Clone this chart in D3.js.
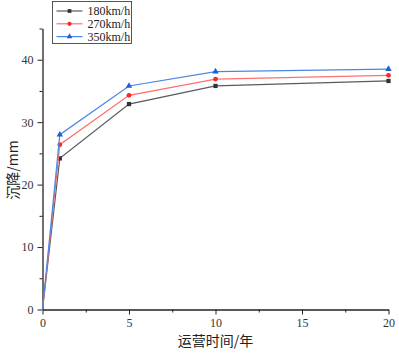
<!DOCTYPE html>
<html>
<head>
<meta charset="utf-8">
<script src="https://cdn.jsdelivr.net/npm/d3@7"></script>
<style>
body{margin:0;background:#fff;}
</style>
</head>
<body>
<svg id="drawing_region"></svg>
<script>
const years = [0, 1, 5, 10, 20];
const speeds = ["180km/h", "270km/h", "350km/h"];
const v180 = [0, 24.2, 32.9, 35.8, 36.6];
const v270 = [0, 26.4, 34.3, 36.9, 37.5];
const v350 = [0, 28.0, 35.8, 38.1, 38.5];
const xTicks = [0, 5, 10, 15, 20];
const yTicks = [0, 10, 20, 30, 40];

const lineColors = ["#5a5a5a", "#ff6f6f", "#4a86e8"];
const markColors = ["#333333", "#f22a2a", "#1f5fd6"];
const shapes = [d3.symbolSquare, d3.symbolCircle, d3.symbolTriangle];

const width = 399, height = 354;
const margin = {top:28.5, left:42.5, right:10.5, bottom:44.5};
const innerW = 388.5 - margin.left;
const innerH = 309.5 - margin.top;

const svg = d3.select("#drawing_region")
    .attr("width", width)
    .attr("height", height);

const chart = svg.append("g")
    .attr("transform", `translate(${margin.left},${margin.top})`);

const xscale = d3.scaleLinear().domain([0, 20]).range([0, innerW]);
const yscale = d3.scaleLinear().domain([0, 45]).range([innerH, 0]);

const numFont = "'Liberation Serif','DejaVu Serif',serif";

// minor ticks
chart.append("g")
    .attr("transform", `translate(0,${innerH})`)
    .call(d3.axisBottom(xscale).tickValues([2.5, 7.5, 12.5, 17.5]).tickSize(3).tickFormat(""))
    .call(g => g.select(".domain").remove());
chart.append("g")
    .call(d3.axisLeft(yscale).tickValues([5, 15, 25, 35, 45]).tickSize(3).tickFormat(""))
    .call(g => g.select(".domain").remove());

const xaxis_group = chart.append("g")
    .attr("transform", `translate(0,${innerH})`)
    .call(d3.axisBottom(xscale).tickValues(xTicks).tickSize(5).tickPadding(4).tickSizeOuter(0));
const yaxis_group = chart.append("g")
    .call(d3.axisLeft(yscale).tickValues(yTicks).tickSize(5).tickPadding(4).tickSizeOuter(0));

[xaxis_group, yaxis_group].forEach(g => {
    g.selectAll("text")
        .attr("font-family", numFont)
        .attr("font-size", "12px")
        .attr("fill", "#333");
    g.selectAll("line").attr("stroke", "#222").attr("stroke-width", 1);
    g.select(".domain").attr("stroke", "#222").attr("stroke-width", 1.3);
});
chart.selectAll("g line").attr("stroke", "#222");

// axis titles
svg.append("text")
    .attr("x", margin.left + innerW / 2)
    .attr("y", 346)
    .attr("text-anchor", "middle")
    .attr("font-family", "'Noto Sans CJK SC'")
    .attr("font-size", "14px")
    .attr("fill", "#222")
    .text("运营时间/年");
svg.append("text")
    .attr("transform", `translate(18,170) rotate(-90)`)
    .attr("text-anchor", "middle")
    .attr("font-family", "'Noto Sans CJK SC'")
    .attr("font-size", "14px")
    .attr("fill", "#222")
    .text("沉降/mm");

// series
const series = [v180, v270, v350];
const line = d3.line()
    .x((d, i) => xscale(years[i]))
    .y(d => yscale(d));

series.forEach((vals, s) => {
    chart.append("path")
        .datum(vals)
        .attr("fill", "none")
        .attr("stroke", lineColors[s])
        .attr("stroke-width", 1.2)
        .attr("d", line);
    chart.selectAll(".m" + s)
        .data(vals.map((v, i) => ({x: years[i], y: v})).filter(d => d.x > 0))
        .enter()
        .append("path")
        .attr("class", "m" + s)
        .attr("transform", d => `translate(${xscale(d.x)},${yscale(d.y)})`)
        .attr("d", d3.symbol().type(shapes[s]).size(18))
        .attr("fill", markColors[s]);
});

// legend
const legend = svg.append("g").attr("transform", "translate(52.5,1.5)");
legend.append("rect")
    .attr("width", 79)
    .attr("height", 42)
    .attr("fill", "#fff")
    .attr("stroke", "#555")
    .attr("stroke-width", 1);
speeds.forEach((name, s) => {
    const y = 9.5 + s * 12.8;
    legend.append("line")
        .attr("x1", 4).attr("x2", 30)
        .attr("y1", y).attr("y2", y)
        .attr("stroke", lineColors[s])
        .attr("stroke-width", 1.2);
    legend.append("path")
        .attr("transform", `translate(17,${y})`)
        .attr("d", d3.symbol().type(shapes[s]).size(14))
        .attr("fill", markColors[s]);
    legend.append("text")
        .attr("x", 35)
        .attr("y", y + 4)
        .attr("font-family", numFont)
        .attr("font-size", "12px")
        .attr("fill", "#222")
        .text(name);
});
</script>
</body>
</html>
